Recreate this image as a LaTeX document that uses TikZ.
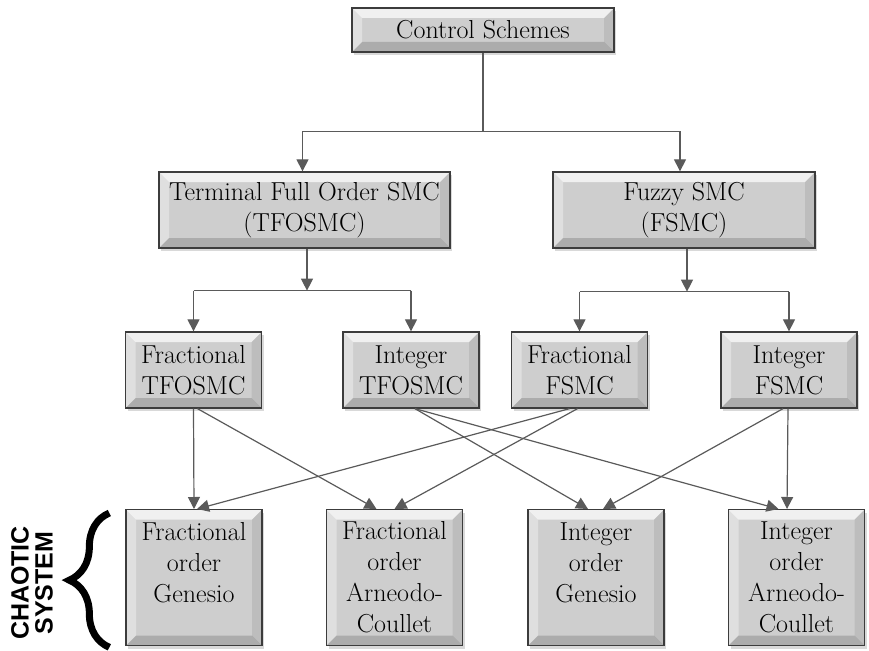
\documentclass[tikz,border=0pt]{standalone}
\usepackage{fontspec}
\newfontfamily\sidefont{Liberation Sans}
\usetikzlibrary{arrows.meta,positioning,decorations.pathreplacing,shadows}
\definecolor{BoxFill} {RGB}{206,206,206}
\definecolor{BoxLine} {RGB}{60, 60, 60}
\definecolor{LinkGray}{RGB}{90, 90, 90}
\tikzset{
  bevel/.style={path picture={
    \fill[white,opacity=.7] (path picture bounding box.north west) -- (path picture bounding box.north east)
      -- ([xshift=-10pt,yshift=-10pt]path picture bounding box.north east) -- ([xshift=10pt,yshift=-10pt]path picture bounding box.north west) -- cycle;
    \fill[white,opacity=.35] (path picture bounding box.north west) -- (path picture bounding box.south west)
      -- ([xshift=10pt,yshift=10pt]path picture bounding box.south west) -- ([xshift=10pt,yshift=-10pt]path picture bounding box.north west) -- cycle;
    \fill[black,opacity=.08] (path picture bounding box.north east) -- (path picture bounding box.south east)
      -- ([xshift=-10pt,yshift=10pt]path picture bounding box.south east) -- ([xshift=-10pt,yshift=-10pt]path picture bounding box.north east) -- cycle;
    \fill[black,opacity=.16] (path picture bounding box.south west) -- (path picture bounding box.south east)
      -- ([xshift=-10pt,yshift=10pt]path picture bounding box.south east) -- ([xshift=10pt,yshift=10pt]path picture bounding box.south west) -- cycle;
  }},
  ctlbox/.style={draw=BoxLine,line width=1.3pt,fill=BoxFill,bevel,align=center,inner sep=0pt,
    font=\fontsize{26}{31}\selectfont,
    drop shadow={shadow xshift=2pt,shadow yshift=-3pt,opacity=.3}},
  ctlrow/.style={ctlbox,minimum width=136,minimum height=76},
  sysbox/.style={ctlbox,minimum width=136,minimum height=136,anchor=north},
  link/.style={draw=LinkGray,line width=1.2pt},
  arr/.style={link,-{Triangle[length=12pt,width=12pt]}}
}
\begin{document}
\begin{tikzpicture}[x=1pt,y=-1pt]
  \useasboundingbox (0,0) rectangle (869,650);
  % top levels
  \node[ctlbox,minimum width=262,minimum height=44] (ctrl) at (483,30) {Control Schemes};
  \node[ctlbox,minimum width=291,minimum height=76] (tfo) at (304.5,210) {Terminal Full Order SMC\\(TFOSMC)};
  \node[ctlbox,minimum width=262,minimum height=76] (fsm) at (684,210) {Fuzzy SMC\\(FSMC)};
  % controllers
  \node[ctlrow] (ftfo) at (193.5,370) {Fractional\\TFOSMC};
  \node[ctlrow] (itfo) at (411,370)   {Integer\\TFOSMC};
  \node[ctlrow] (ffsm) at (579.5,370) {Fractional\\FSMC};
  \node[ctlrow] (ifsm) at (789,370)   {Integer\\FSMC};
  % chaotic systems
  \node[sysbox] (fgen) at (194,509)   {Fractional\\order\\Genesio\\\mbox{}};
  \node[sysbox] (farn) at (394.5,509) {Fractional\\order\\Arneodo-\\Coullet};
  \node[sysbox] (igen) at (596,509)   {Integer\\order\\Genesio\\\mbox{}};
  \node[sysbox] (iarn) at (796.5,509) {Integer\\order\\Arneodo-\\Coullet};
  % tree links
  \draw[link] (ctrl.south) -- ++(0,79) coordinate (split0);
  \draw[arr] (split0) -| ([xshift=-2pt]tfo.north);
  \draw[arr] (split0) -| ([xshift=-4pt]fsm.north);
  \draw[arr] ([xshift=2.5pt]tfo.south) -- ++(0,42) coordinate (split1);
  \draw[arr] ([xshift=3pt]fsm.south) -- ++(0,43) coordinate (split2);
  \draw[link] (split1 -| ftfo.north) -- (split1 -| itfo.north);
  \draw[link] (split2 -| ffsm.north) -- (split2 -| ifsm.north);
  \foreach \s/\b in {split1/ftfo,split1/itfo,split2/ffsm,split2/ifsm}{
    \draw[arr] (\s -| \b.north) -- (\b.north);
  }
  % cross links
  \draw[arr] (ftfo.south) -- (fgen.north);
  \draw[arr] ([xshift=4pt]ftfo.south) -- ([xshift=-18pt]farn.north);
  \draw[arr] ([xshift=4pt]itfo.south) -- ([xshift=-8pt]igen.north);
  \draw[arr] ([xshift=4pt]itfo.south) -- ([xshift=-18pt]iarn.north);
  \draw[arr] ([xshift=-10pt]ffsm.south) -- ([xshift=3pt]fgen.north);
  \draw[arr] ([xshift=-2pt]ffsm.south) -- (farn.north);
  \draw[arr] ([xshift=-6pt]ifsm.south) -- ([xshift=7pt]igen.north);
  \draw[arr] ([xshift=-1pt]ifsm.south) -- ([xshift=-9.5pt]iarn.north);
  % side label
  \draw[decorate,decoration={brace,amplitude=40pt},line width=7pt]
    ([xshift=-16pt,yshift=-1pt]fgen.south west) -- ([xshift=-16pt,yshift=-4pt]fgen.north west);
  \node[rotate=90,align=center,font=\sidefont\bfseries\fontsize{25}{24}\selectfont] (chaos) at (32,583) {CHAOTIC\\SYSTEM};
\end{tikzpicture}
\end{document}
